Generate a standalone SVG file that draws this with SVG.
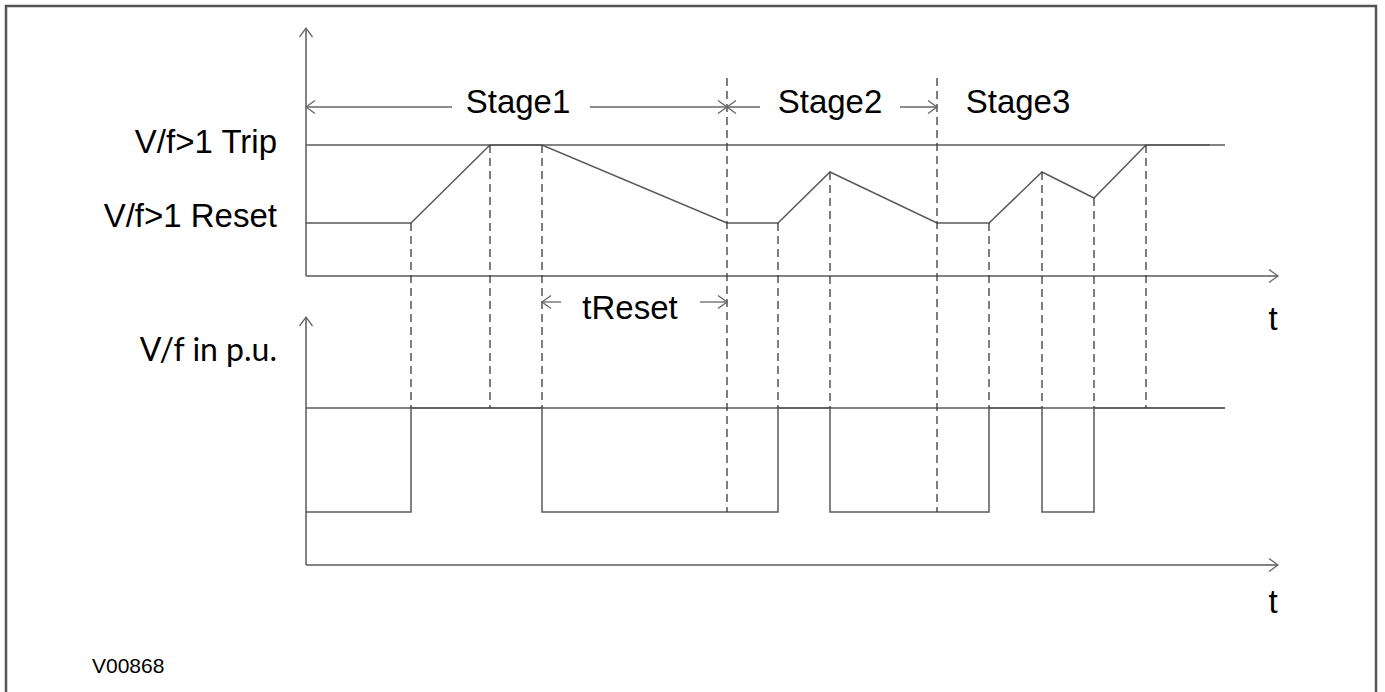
<svg xmlns="http://www.w3.org/2000/svg" width="1385" height="692" viewBox="0 0 1385 692">
<style>
.ln{fill:none;stroke:#5a5a5a;stroke-width:1.5}
.wf{fill:none;stroke:#5a5a5a;stroke-width:1.5;stroke-linejoin:miter}
.ds{fill:none;stroke:#3a3a3a;stroke-width:1.3;stroke-dasharray:8 5}
.ar{fill:none;stroke:#666;stroke-width:1.3}
.tx{font-family:"Liberation Sans",Arial,sans-serif;font-size:33px;fill:#000}
.cal{font-family:Lato,"Liberation Sans",sans-serif;font-size:32px;fill:#000}
.sm{font-family:"Liberation Sans",Arial,sans-serif;font-size:21px;fill:#000}
</style>
<defs>
<marker id="oa" viewBox="-11 -8 13 16" markerWidth="13" markerHeight="16" refX="0" refY="0" orient="auto-start-reverse" markerUnits="userSpaceOnUse">
<path d="M-9,-6.5 L0,0 L-9,6.5" fill="none" stroke="#666" stroke-width="1.3"/>
</marker>
</defs>
<rect x="6" y="6" width="1370" height="700" fill="#fff" stroke="#555" stroke-width="2.5"/>

<g id="connectors">
<path class="ln" d="M306,276 V28" marker-end="url(#oa)"/>
<path class="ln" d="M306,276 H1278" marker-end="url(#oa)"/>
<path class="ln" d="M306,145 H1225"/>
<path class="wf" d="M306,223 H411 L490,145 H542 L727,223 H778 L830,172 L937,223 H989 L1042,172 L1094,198 L1146,145 H1210"/>
<path class="ln" d="M306,565 V317" marker-end="url(#oa)"/>
<path class="ln" d="M306,565 H1278" marker-end="url(#oa)"/>
<path class="ln" d="M306,408 H1225"/>
<path class="wf" d="M306,512 H411 V408 H542 V512 H778 V408 H830 V512 H989 V408 H1042 V512 H1094 V408 H1225"/>
<path class="ds" d="M411,223 V408"/>
<path class="ds" d="M490,145 V408"/>
<path class="ds" d="M542,145 V408"/>
<path class="ds" d="M727,78 V512"/>
<path class="ds" d="M778,223 V408"/>
<path class="ds" d="M830,172 V408"/>
<path class="ds" d="M937,78 V512"/>
<path class="ds" d="M989,223 V408"/>
<path class="ds" d="M1042,172 V408"/>
<path class="ds" d="M1094,198 V408"/>
<path class="ds" d="M1146,145 V408"/>
<path class="ar" d="M452,107 H306" marker-end="url(#oa)"/>
<path class="ar" d="M590,107 H727" marker-end="url(#oa)"/>
<path class="ar" d="M760,107 H727" marker-end="url(#oa)"/>
<path class="ar" d="M900,107 H937" marker-end="url(#oa)"/>
<path class="ar" d="M561,302 H542" marker-end="url(#oa)"/>
<path class="ar" d="M700,302 H727" marker-end="url(#oa)"/>
</g>

<g id="label-trip"><text class="tx" x="277" y="153" text-anchor="end">V/f&gt;1 Trip</text></g>
<g id="label-reset"><text class="tx" x="277" y="227" text-anchor="end">V/f&gt;1 Reset</text></g>
<g id="label-vf"><text class="cal" x="277" y="361" text-anchor="end">V/f in p.u.</text></g>
<g id="label-stage1"><text class="tx" x="518" y="113" text-anchor="middle">Stage1</text></g>
<g id="label-stage2"><text class="tx" x="830" y="113" text-anchor="middle">Stage2</text></g>
<g id="label-stage3"><text class="tx" x="1018" y="113" text-anchor="middle">Stage3</text></g>
<g id="label-treset"><text class="tx" x="630" y="319" text-anchor="middle">tReset</text></g>
<g id="label-t1"><text class="tx" x="1273" y="330" text-anchor="middle">t</text></g>
<g id="label-t2"><text class="tx" x="1273" y="613" text-anchor="middle">t</text></g>
<g id="label-code"><text class="sm" x="92" y="673">V00868</text></g>
</svg>
